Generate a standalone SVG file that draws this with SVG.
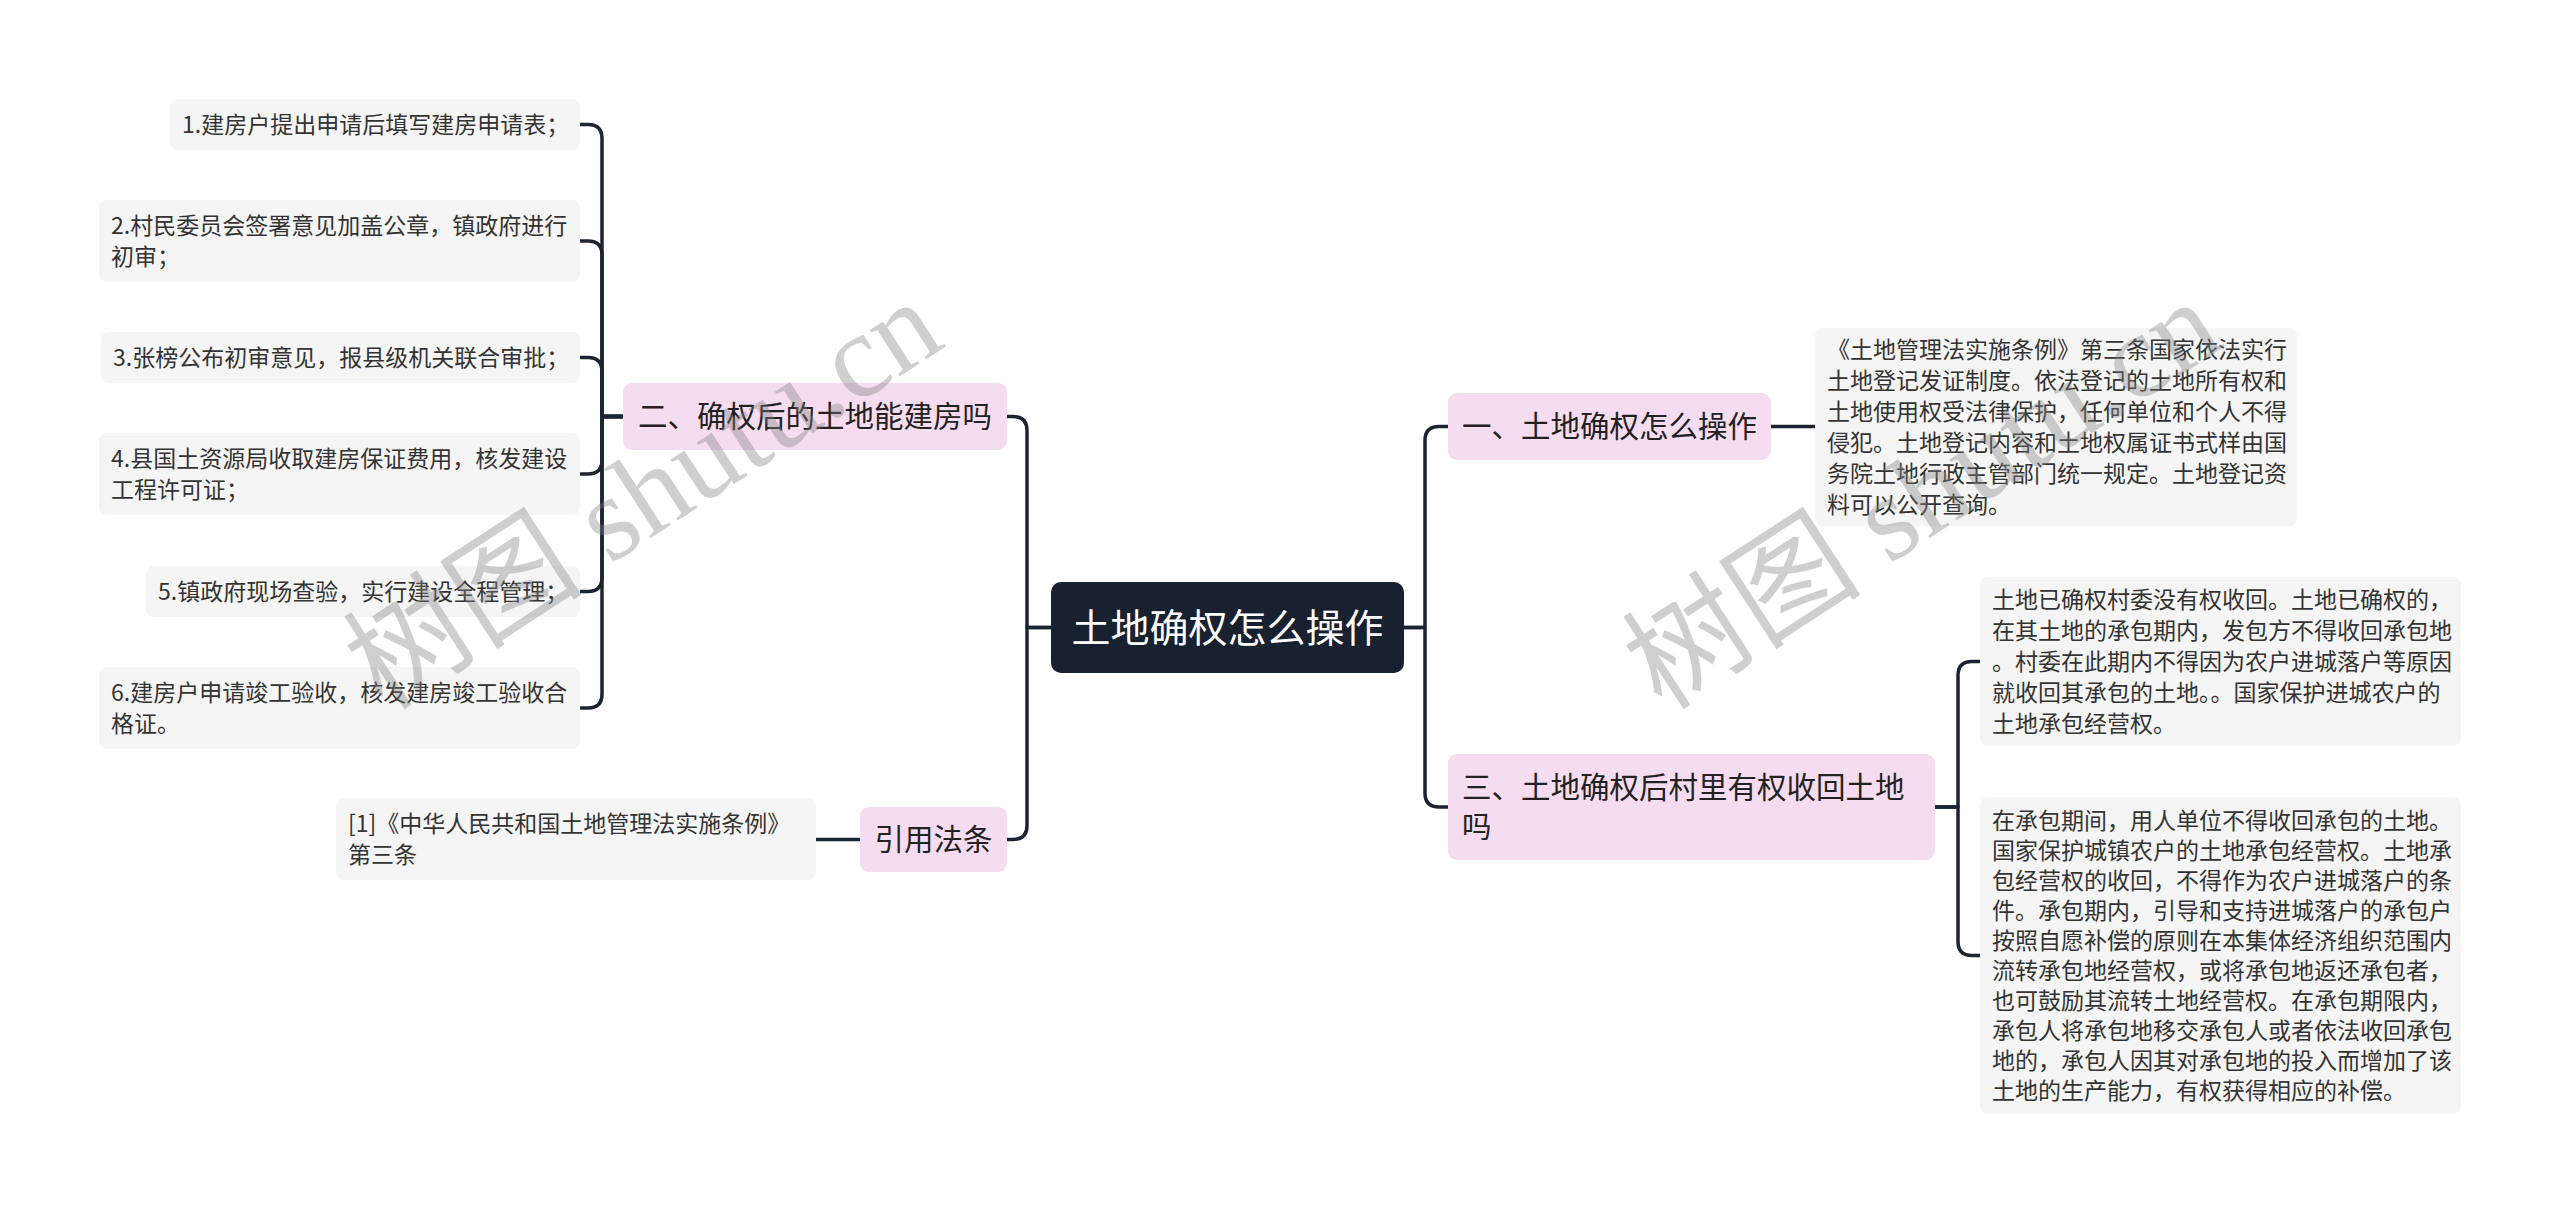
<svg xmlns="http://www.w3.org/2000/svg" width="2560" height="1213" viewBox="0 0 2560 1213">
<style>
.t{font-family:"Noto Sans CJK SC","Noto Sans",sans-serif;}
.leaf rect{fill:#f5f5f5;}
.leaf text{font-size:23px;fill:#333333;}
.br rect{fill:#f6dcf0;}
.br text{font-size:29.5px;fill:#222222;}
.root rect{fill:#18212f;}
.root text{font-size:39px;fill:#ffffff;}
.conn path{fill:none;stroke:#1b2432;stroke-width:3.5;stroke-linecap:round;stroke-linejoin:round;}
.wm{font-family:"Liberation Serif","Noto Sans CJK SC",serif;font-size:120px;fill:#808080;fill-opacity:0.38;}
</style>
<rect x="0" y="0" width="2560" height="1213" fill="#ffffff"/>
<g class="conn" id="connectors">
<path d="M1051 627.5 H1027 V430.5 Q1027 416.5 1013 416.5 H1007"/>
<path d="M1051 627.5 H1027 V825.5 Q1027 839.5 1013 839.5 H1007"/>
<path d="M623 416.5 H602 V138.5 Q602 124.5 588 124.5 H580"/>
<path d="M623 416.5 H602 V255 Q602 241 588 241 H580"/>
<path d="M623 416.5 H602 V371.5 Q602 357.5 588 357.5 H580"/>
<path d="M623 416.5 H602 V460 Q602 474 588 474 H580"/>
<path d="M623 416.5 H602 V577.5 Q602 591.5 588 591.5 H580"/>
<path d="M623 416.5 H602 V694 Q602 708 588 708 H580"/>
<path d="M860 839.5 H816"/>
<path d="M1404 627.5 H1425 V440.5 Q1425 426.5 1439 426.5 H1448"/>
<path d="M1404 627.5 H1425 V793 Q1425 807 1439 807 H1448"/>
<path d="M1771 426.5 H1815"/>
<path d="M1935 807 H1958 V675.5 Q1958 661.5 1972 661.5 H1980"/>
<path d="M1935 807 H1958 V941.5 Q1958 955.5 1972 955.5 H1980"/>
</g>
<g id="root" class="root t">
<rect x="1051" y="582" width="353" height="91" rx="10"/>
<text x="1227.5" y="641.5" text-anchor="middle">土地确权怎么操作</text>
</g>
<g id="b2" class="br t">
<rect x="623" y="383" width="384" height="67" rx="9"/>
<text x="638" y="427">二、确权后的土地能建房吗</text>
</g>
<g id="b4" class="br t">
<rect x="860" y="807" width="147" height="65" rx="9"/>
<text x="874.5" y="850">引用法条</text>
</g>
<g id="b1" class="br t">
<rect x="1448" y="393" width="323" height="67" rx="9"/>
<text x="1462" y="437">一、土地确权怎么操作</text>
</g>
<g id="b3" class="br t">
<rect x="1448" y="754" width="487" height="106" rx="9"/>
<text x="1462" y="797.5">三、土地确权后村里有权收回土地</text>
<text x="1462" y="836.5">吗</text>
</g>
<g id="l1" class="leaf t">
<rect x="170" y="99" width="410" height="51" rx="8"/>
<text x="182" y="133">1.建房户提出申请后填写建房申请表；</text>
</g>
<g id="l2" class="leaf t">
<rect x="99" y="200" width="481" height="82" rx="8"/>
<text x="111" y="234">2.村民委员会签署意见加盖公章，镇政府进行</text>
<text x="111" y="265">初审；</text>
</g>
<g id="l3" class="leaf t">
<rect x="101" y="332" width="479" height="51" rx="8"/>
<text x="113" y="366">3.张榜公布初审意见，报县级机关联合审批；</text>
</g>
<g id="l4" class="leaf t">
<rect x="99" y="433" width="481" height="82" rx="8"/>
<text x="111" y="467">4.县国土资源局收取建房保证费用，核发建设</text>
<text x="111" y="498">工程许可证；</text>
</g>
<g id="l5" class="leaf t">
<rect x="146" y="566" width="434" height="51" rx="8"/>
<text x="158" y="600">5.镇政府现场查验，实行建设全程管理；</text>
</g>
<g id="l6" class="leaf t">
<rect x="99" y="667" width="481" height="82" rx="8"/>
<text x="111" y="701">6.建房户申请竣工验收，核发建房竣工验收合</text>
<text x="111" y="732">格证。</text>
</g>
<g id="ref" class="leaf t">
<rect x="336" y="798" width="480" height="82" rx="8"/>
<text x="348" y="832">[1]《中华人民共和国土地管理法实施条例》</text>
<text x="348" y="863">第三条</text>
</g>
<g id="d1" class="leaf t">
<rect x="1815" y="328" width="482" height="198" rx="8"/>
<text x="1827" y="358">《土地管理法实施条例》第三条国家依法实行</text>
<text x="1827" y="389">土地登记发证制度。依法登记的土地所有权和</text>
<text x="1827" y="420">土地使用权受法律保护，任何单位和个人不得</text>
<text x="1827" y="451">侵犯。土地登记内容和土地权属证书式样由国</text>
<text x="1827" y="482">务院土地行政主管部门统一规定。土地登记资</text>
<text x="1827" y="513">料可以公开查询。</text>
</g>
<g id="d2" class="leaf t">
<rect x="1980" y="577" width="481" height="169" rx="8"/>
<text x="1992" y="608">土地已确权村委没有权收回。土地已确权的，</text>
<text x="1992" y="639">在其土地的承包期内，发包方不得收回承包地</text>
<text x="1992" y="670">。村委在此期内不得因为农户进城落户等原因</text>
<text x="1992" y="701">就收回其承包的土地。。国家保护进城农户的</text>
<text x="1992" y="732">土地承包经营权。</text>
</g>
<g id="d3" class="leaf t">
<rect x="1980" y="797" width="481" height="317" rx="8"/>
<text x="1992" y="829">在承包期间，用人单位不得收回承包的土地。</text>
<text x="1992" y="859">国家保护城镇农户的土地承包经营权。土地承</text>
<text x="1992" y="889">包经营权的收回，不得作为农户进城落户的条</text>
<text x="1992" y="919">件。承包期内，引导和支持进城落户的承包户</text>
<text x="1992" y="949">按照自愿补偿的原则在本集体经济组织范围内</text>
<text x="1992" y="979">流转承包地经营权，或将承包地返还承包者，</text>
<text x="1992" y="1009">也可鼓励其流转土地经营权。在承包期限内，</text>
<text x="1992" y="1039">承包人将承包地移交承包人或者依法收回承包</text>
<text x="1992" y="1069">地的，承包人因其对承包地的投入而增加了该</text>
<text x="1992" y="1099">土地的生产能力，有权获得相应的补偿。</text>
</g>
<g id="watermark">
<text class="wm" x="383" y="712" transform="rotate(-33 383 712)">树图 shutu.cn</text>
<text class="wm" x="1662" y="712" transform="rotate(-33 1662 712)">树图 shutu.cn</text>
</g>
</svg>
